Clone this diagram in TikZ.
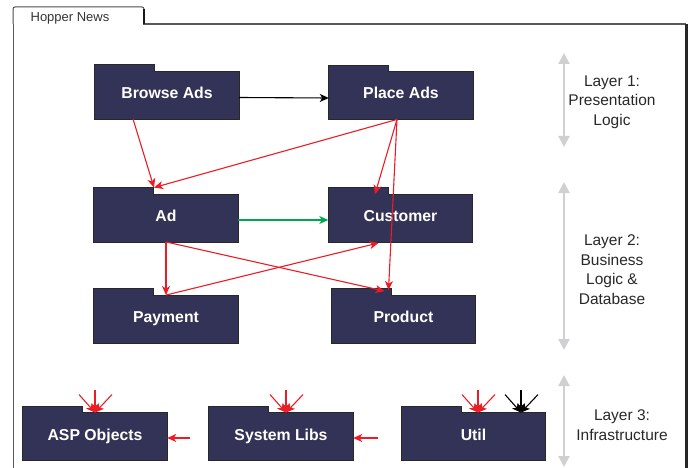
\documentclass[tikz,border=0pt]{standalone}
\usepackage{fontspec}
\setmainfont{Liberation Sans}
\usetikzlibrary{arrows.meta,backgrounds}

\definecolor{pkgfill}{RGB}{51,51,87}
\definecolor{pkgedge}{RGB}{40,40,40}
\definecolor{depred}{RGB}{237,28,36}
\definecolor{depgreen}{RGB}{0,166,80}
\definecolor{layergray}{RGB}{208,208,210}
\definecolor{labeltext}{RGB}{40,40,40}

\tikzset{
  x=1pt, y=1pt,
  pkg/.style={minimum width=144pt, minimum height=47.5pt, inner sep=0pt,
    text height=11pt, text depth=4pt,
    text=white, font=\fontsize{15.8}{18}\selectfont\bfseries},
  folder/.style={fill=pkgfill, draw=pkgedge, line width=0.8pt},
  dep/.style={line width=1.1pt, -{Stealth[length=9pt,width=8pt,inset=2.5pt]}},
  reddep/.style={dep, draw=depred},
  layerspan/.style={draw=layergray, line width=2pt,
    {Triangle[length=11pt,width=11pt]}-{Triangle[length=11pt,width=11pt]}},
  layerlabel/.style={align=center, text=labeltext,
    font=\fontsize{15.5}{19.5}\selectfont},
}

% folder outline behind a package node: body plus a 60pt wide tab
\newcommand{\folderbehind}[1]{%
  \draw[folder] (#1.south west) -- (#1.north west) -- ++(0,6.5) -- ++(60,0)
    -- ++(0,-6.5) -- (#1.north east) -- (#1.south east) -- cycle;}

% three short arrows meeting at one named point on a package top
\newcommand{\arrowtrio}[3]{%
  \coordinate (#1-l) at ([shift={(-16,18)}]#2);
  \coordinate (#1-m) at ([shift={(0,23)}]#2);
  \coordinate (#1-r) at ([shift={(17,18)}]#2);
  \draw[dep, draw=#3] (#1-l) -- (#2);
  \draw[dep, draw=#3] (#1-m) -- (#2);
  \draw[dep, draw=#3] (#1-r) -- (#2);}

\begin{document}
\begin{tikzpicture}
\useasboundingbox (0,0) rectangle (691,-468);

% enclosing package frame
\draw[draw=black!65, line width=1pt] (13,-468) -- (13,-24);
\draw[draw=black!65, line width=1.5pt] (143,-24) -- (686,-24);
\draw[draw=black!85, line width=3pt] (686.5,-24) -- (686.5,-468);
\draw[draw=black!70, line width=1pt, rounded corners=2pt] (13,-24) -- (13,-7) -- (144,-7) -- (144,-24);
\draw[draw=black!90, line width=2.5pt] (144,-9) -- (144,-24);
\node[font=\fontsize{13}{15}\selectfont, text=black!80] (title) at (70,-18) {Hopper News};

% packages
\node[pkg] (browse) at (167,-95) {Browse Ads};
\node[pkg] (place) at (401,-95.5) {Place Ads};
\node[pkg] (ad) at (166,-218) {Ad};
\node[pkg] (customer) at (400.5,-218) {Customer};
\node[pkg] (payment) at (166,-319) {Payment};
\node[pkg] (product) at (403.5,-319) {Product};
\node[pkg] (asp) at (95,-436.5) {ASP Objects};
\node[pkg] (syslibs) at (281,-436.5) {System Libs};
\node[pkg] (util) at (473.5,-436.5) {Util};

\begin{scope}[on background layer]
  \foreach \p in {browse,place,ad,customer,payment,product,asp,syslibs,util}
    {\folderbehind{\p}}
\end{scope}

% layer markers
\node[layerlabel] (lay1) at (612,-102) {Layer 1:\\Presentation\\Logic};
\node[layerlabel] (lay2) at (612,-269.5) {Layer 2:\\Business\\Logic \&\\Database};
\node[layerlabel] (lay3) at (622,-425) {Layer 3:\\Infrastructure};
\coordinate (l1t) at (564,-53);  \coordinate (l1b) at (564,-147);
\coordinate (l2t) at (564,-182); \coordinate (l2b) at (564,-350);
\coordinate (l3t) at (564,-375); \coordinate (l3b) at (564,-467);
\draw[layerspan] (l1t) -- (l1b);
\draw[layerspan] (l2t) -- (l2b);
\draw[layerspan] (l3t) -- (l3b);

% dependencies
\draw[dep, draw=black] ([yshift=-2.5]browse.east) -- ([yshift=-2.5]place.west);
\draw[reddep] ([xshift=-34]browse.south) -- ([shift={(-12,6.5)}]ad.north);
\draw[reddep] ([xshift=-4]place.south) -- ([shift={(-12,6.5)}]ad.north);
\draw[reddep] ([xshift=-4]place.south) -- ([shift={(-25.5,0)}]customer.north);
\draw[reddep] ([xshift=-4]place.south) -- ([shift={(-15,5)}]product.north);
\draw[dep, draw=depgreen] ([yshift=-2]ad.east) -- ([yshift=-2]customer.west);
\draw[reddep] (ad.south) -- (payment.north);
\draw[reddep] (ad.south) -- ([shift={(-19,4)}]product.north);
\draw[reddep] (payment.north) -- ([shift={(-22,-1)}]customer.south);

% dangling dependencies into the infrastructure layer
\coordinate (asptop) at (asp.north);
\coordinate (systop) at ([xshift=5]syslibs.north);
\coordinate (utiltop) at ([xshift=4.5]util.north);
\coordinate (utiltopb) at ([xshift=47.5]util.north);
\arrowtrio{aspin}{asptop}{depred}
\arrowtrio{sysin}{systop}{depred}
\arrowtrio{utilin}{utiltop}{depred}
\arrowtrio{utilblk}{utiltopb}{black}
\coordinate (aspside) at (190,-438);
\coordinate (sysside) at (378,-438);
\draw[reddep] (aspside) -- ([yshift=-1.5]asp.east);
\draw[reddep] (sysside) -- ([yshift=-1.5]syslibs.east);
\end{tikzpicture}
\end{document}
